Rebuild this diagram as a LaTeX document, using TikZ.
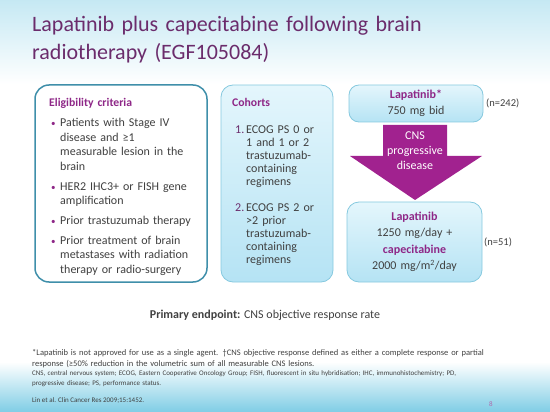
\documentclass[tikz,border=0pt]{standalone}
\usepackage{fontspec}
\setmainfont{Carlito}
\usepackage{xcolor}
\usetikzlibrary{positioning, arrows.meta}
\definecolor{titlepurple}{HTML}{6B2C6C}
\definecolor{headpurple}{HTML}{8E2787}
\definecolor{arrowpurple}{HTML}{A1228F}
\definecolor{bodygray}{HTML}{404040}
\definecolor{skyblue}{HTML}{7FCDE5}
\definecolor{eligborder}{HTML}{3F8FAA}
\definecolor{cohorttop}{HTML}{E4F6FC}
\definecolor{cohortbottom}{HTML}{B5E3F4}
\definecolor{cohortborder}{HTML}{86C9DF}

\newcommand{\hl}[1]{\textcolor{headpurple}{\textbf{#1}}}
\newcommand{\bulletpt}{\par\hangindent=11pt\hangafter=1\noindent
  \hspace*{2pt}\makebox[9pt][l]{\textcolor{headpurple}{\small\textbullet}}}
\newcommand{\numpt}[1]{\par\hangindent=14pt\hangafter=1\noindent
  \hspace*{3pt}\makebox[11pt][l]{\textcolor{titlepurple}{#1}}}

\tikzset{
  panel/.style={draw=cohortborder, line width=0.8pt, rounded corners=12pt,
    top color=cohorttop, bottom color=cohortbottom},
  bodytext/.style={inner sep=0pt, text=bodygray},
}

\begin{document}
\begin{tikzpicture}[x=1pt, y=-1pt]
  \useasboundingbox (0,0) rectangle (550,412);
  % background bands
  \shade[top color=skyblue!45, middle color=skyblue!85, bottom color=white]
    (0,0) rectangle (550,84);
  \shade[top color=white, bottom color=skyblue] (0,362) rectangle (550,412);

  \node[anchor=base west, inner sep=0pt, text=titlepurple, align=left, text width=510pt,
        font=\fontsize{22}{28}\selectfont] (title) at (32,32)
    {Lapatinib plus capecitabine following brain\\radiotherapy (EGF105084)};

  % eligibility panel
  \draw[fill=white, draw=eligborder, line width=1.5pt, rounded corners=14pt]
    (35,85) rectangle (207,282);
  \node[bodytext, anchor=base west, text width=152pt,
        font=\fontsize{12}{14.5}\selectfont] (elig) at (49,107) {%
    \setlength{\parskip}{5.3pt}%
    {\fontsize{11.7}{14.5}\selectfont\hl{Eligibility criteria}}
    \bulletpt Patients with Stage IV\newline disease and ≥1\newline measurable lesion in the\newline brain
    \bulletpt HER2 IHC3+ or FISH gene\newline amplification
    \bulletpt Prior trastuzumab therapy
    \bulletpt Prior treatment of brain\newline metastases with radiation\newline therapy or radio-surgery\par};

  % cohorts panel
  \draw[panel] (221,85) rectangle (333,282);
  \node[bodytext, anchor=base west, text width=100pt,
        font=\fontsize{12}{13}\selectfont] (cohorts) at (232,106.7) {%
    \setlength{\parskip}{13pt}%
    {\fontsize{11.7}{13}\selectfont\hl{Cohorts}}\par\vspace{0.6pt}
    \numpt{1.}ECOG PS 0 or\newline 1 and 1 or 2\newline trastuzumab-\newline containing\newline regimens
    \numpt{2.}ECOG PS 2 or\newline >2 prior\newline trastuzumab-\newline containing\newline regimens\par};

  % treatment sequence
  \draw[panel, rounded corners=10pt] (349,85) rectangle (483,122);
  \node[bodytext, anchor=base, align=center, text width=130pt,
        font=\fontsize{12}{16.7}\selectfont] (mono) at (416,98.3)
    {\hl{Lapatinib*}\\750 mg bid};
  \node[bodytext, anchor=base west, font=\fontsize{10.5}{12}\selectfont]
    (nfirst) at (486,106.7) {(n=242)};

  \fill[arrowpurple] (383,125) -- (447,125) -- (447,156) -- (482,156)
    -- (415,200) -- (350,156) -- (383,156) -- cycle;
  \node[inner sep=0pt, text=white, anchor=base, align=center, text width=70pt,
        font=\fontsize{12}{15}\selectfont] (progress) at (415,140)
    {CNS\\progressive\\disease};

  \draw[panel] (347,202) rectangle (482,282);
  \node[bodytext, anchor=base, align=center, text width=130pt,
        font=\fontsize{12}{16.3}\selectfont] (combo) at (414.5,220.7)
    {\hl{Lapatinib}\\1250 mg/day +\\\hl{capecitabine}\\2000 mg/m\textsuperscript{2}/day};
  \node[bodytext, anchor=base west, font=\fontsize{10.5}{12}\selectfont]
    (nsecond) at (484,245) {(n=51)};

  % endpoint and footnotes
  \node[bodytext, anchor=base, font=\fontsize{12}{14}\selectfont]
    (endpoint) at (265,318.3) {\textbf{Primary endpoint:} CNS objective response rate};
  \node[bodytext, anchor=base west, align=left, text width=480pt,
        font=\fontsize{8.5}{10.3}\selectfont] (note) at (32,355.7)
    {*Lapatinib is not approved for use as a single agent. †CNS objective response defined as either a complete response or partial\\
     response (≥50\% reduction in the volumetric sum of all measurable CNS lesions.};
  \node[bodytext, anchor=base west, align=left, text width=480pt,
        font=\fontsize{7}{9.7}\selectfont] (abbrev) at (32,375.3)
    {CNS, central nervous system; ECOG, Eastern Cooperative Oncology Group; FISH, fluorescent in situ hybridisation; IHC, immunohistochemistry; PD,\\
     progressive disease; PS, performance status.};
  \node[bodytext, anchor=base west, font=\fontsize{7}{9}\selectfont]
    (source) at (32,402) {Lin et al. Clin Cancer Res 2009;15:1452.};
  \node[inner sep=0pt, anchor=base, text=headpurple!70, font=\fontsize{7}{9}\selectfont]
    (pagenum) at (491,406.7) {8};
\end{tikzpicture}
\end{document}
